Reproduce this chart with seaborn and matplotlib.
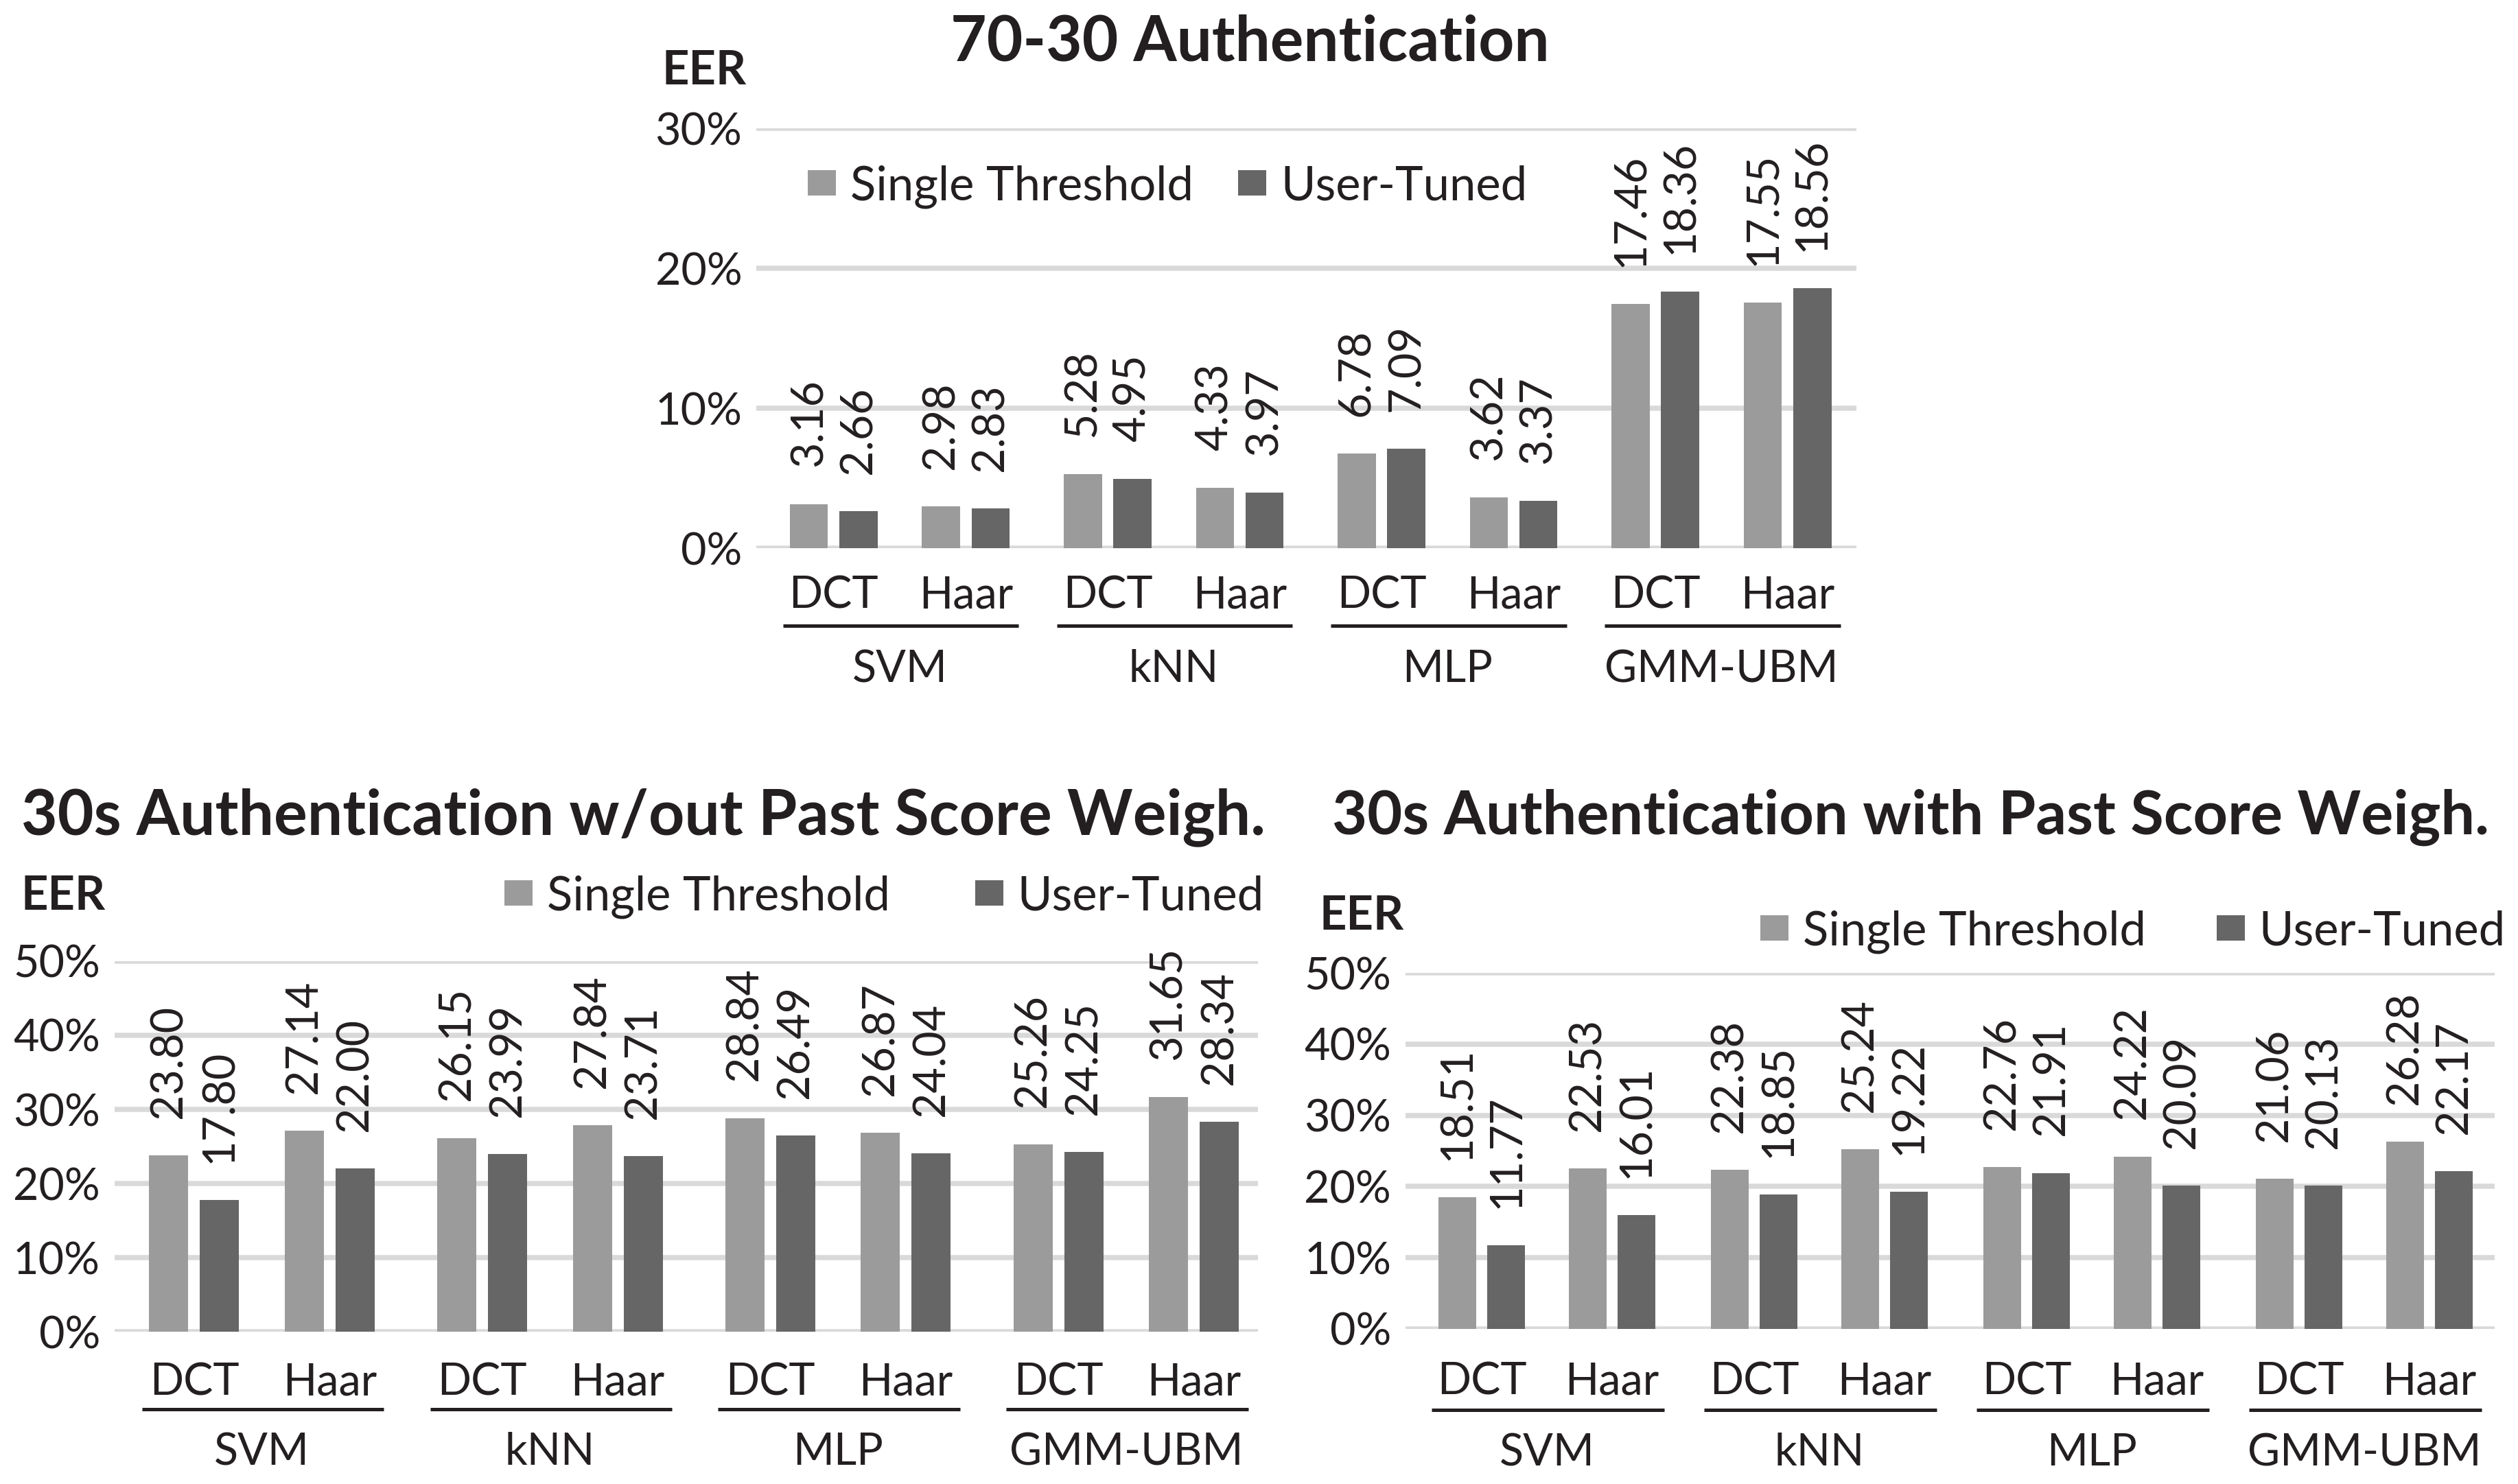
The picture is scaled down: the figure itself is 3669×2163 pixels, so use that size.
import pandas as pd
import matplotlib
matplotlib.use("Agg")
import matplotlib.pyplot as plt
import matplotlib.transforms as mtransforms
import seaborn as sns

# categories
groups = ["SVM", "kNN", "MLP", "GMM-UBM"]
features = ["DCT", "Haar"]
methods = ["Single Threshold", "User-Tuned"]

# EER values (%), order: SVM DCT, SVM Haar, kNN DCT, kNN Haar, MLP DCT, MLP Haar, GMM DCT, GMM Haar
eer_7030_single = [3.16, 2.98, 5.28, 4.33, 6.78, 3.62, 17.46, 17.55]
eer_7030_tuned = [2.66, 2.83, 4.95, 3.97, 7.09, 3.37, 18.36, 18.56]
eer_nopast_single = [23.80, 27.14, 26.15, 27.84, 28.84, 26.87, 25.26, 31.65]
eer_nopast_tuned = [17.80, 22.00, 23.99, 23.71, 26.49, 24.04, 24.25, 28.34]
eer_past_single = [18.51, 22.53, 22.38, 25.24, 22.76, 24.22, 21.06, 26.28]
eer_past_tuned = [11.77, 16.01, 18.85, 19.22, 21.91, 20.09, 20.13, 22.17]

INK = "#231f20"
LIGHT = "#9b9b9b"
DARK = "#666666"
GRID = "#d9d9d9"

sns.set_theme(style="white")
plt.rcParams["font.family"] = ["Lato", "DejaVu Sans"]
plt.rcParams["text.color"] = INK


def make_df(single, tuned, step):
    rows = []
    for i, (a, b) in enumerate(zip(single, tuned)):
        g, s = divmod(i, len(features))
        x = g * step + s
        rows.append({"pos": x, "method": methods[0], "eer": a})
        rows.append({"pos": x, "method": methods[1], "eer": b})
    return pd.DataFrame(rows)


def draw_panel(fig, rect, single, tuned, ymax, step, margins, offs,
               legend_anchor, legend_loc, colspace):
    ax = fig.add_axes(rect)
    df = make_df(single, tuned, step)
    sns.barplot(data=df, x="pos", y="eer", hue="method", hue_order=methods,
                palette=[LIGHT, DARK], native_scale=True, width=0.75, gap=0.23,
                saturation=1, errorbar=None, linewidth=0, ax=ax)

    positions = sorted(df["pos"].unique())
    ax.set_xlim(positions[0] - margins[0], positions[-1] + margins[1])
    ax.set_ylim(0, ymax)
    ticks = list(range(0, ymax + 1, 10))
    ax.set_yticks(ticks)
    ax.set_yticklabels([f"{t}%" for t in ticks])
    ax.tick_params(axis="y", length=0, pad=5, labelsize=15.5, labelcolor=INK)
    ax.set_xticks([])
    ax.set_xlabel("")
    ax.set_ylabel("")
    ax.yaxis.grid(True, color=GRID, linewidth=1.8)
    ax.set_axisbelow(True)
    sns.despine(ax=ax, left=True, bottom=True)

    for cont in ax.containers:
        ax.bar_label(cont, fmt="%.2f", rotation=90, padding=13, fontsize=15.5, color=INK)

    # two-level category axis: DCT / Haar, rule, classifier name
    cat_off, line_off, grp_off = offs
    xt = ax.get_xaxis_transform()
    for i, x in enumerate(positions):
        ax.annotate(features[i % len(features)], xy=(x, 0), xycoords=xt,
                    xytext=(0, -cat_off), textcoords="offset points",
                    ha="center", va="baseline", fontsize=15.5, color=INK,
                    annotation_clip=False)
    line_tr = xt + mtransforms.ScaledTranslation(0, -line_off / 72, fig.dpi_scale_trans)
    for g, name in enumerate(groups):
        x0 = positions[g * 2]
        x1 = positions[g * 2 + 1]
        ax.plot([x0 - 0.385, x1 + 0.40], [0, 0], color=INK, linewidth=1.2,
                transform=line_tr, clip_on=False, solid_capstyle="butt")
        ax.annotate(name, xy=((x0 + x1) / 2, 0), xycoords=xt,
                    xytext=(0, -grp_off), textcoords="offset points",
                    ha="center", va="baseline", fontsize=15.5, color=INK,
                    annotation_clip=False)

    handles, labels = ax.get_legend_handles_labels()
    ax.legend(handles, labels, loc=legend_loc, bbox_to_anchor=legend_anchor,
              bbox_transform=fig.transFigure, ncol=2, frameon=False,
              fontsize=16.5, handlelength=0.6, handleheight=0.45,
              handletextpad=0.3, columnspacing=colspace, borderpad=0,
              borderaxespad=0, labelcolor=INK)
    return ax


fig = plt.figure(figsize=(3669 / 300, 2163 / 300), dpi=300)

draw_panel(fig, [0.3004, 0.6306, 0.4369, 0.2829], eer_7030_single, eer_7030_tuned,
           30, 2.073, (0.585, 0.522), (21.0, 27.2, 46.8),
           (0.3208, 0.8743), "center left", 0.95)
draw_panel(fig, [0.0455, 0.1026, 0.4541, 0.2497], eer_nopast_single, eer_nopast_tuned,
           50, 2.125, (0.587, 0.473), (22.1, 27.1, 46.6),
           (0.5020, 0.3958), "center right", 1.8)
draw_panel(fig, [0.5582, 0.1045, 0.4325, 0.2399], eer_past_single, eer_past_tuned,
           50, 2.09, (0.584, 0.5), (23.0, 28.3, 47.8),
           (0.9951, 0.3722), "center right", 1.5)

fig.text(0.4965, 0.9593, "70-30 Authentication", ha="center", va="baseline",
         fontsize=21.8, fontweight="bold")
fig.text(0.2555, 0.4378, "30s Authentication w/out Past Score Weigh.", ha="center",
         va="baseline", fontsize=21.9, fontweight="bold")
fig.text(0.7588, 0.4378, "30s Authentication with Past Score Weigh.", ha="center",
         va="baseline", fontsize=21.2, fontweight="bold")

fig.text(0.263, 0.952, "EER", ha="left", va="center", fontsize=16.5, fontweight="bold")
fig.text(0.0082, 0.3958, "EER", ha="left", va="center", fontsize=16.5, fontweight="bold")
fig.text(0.524, 0.3828, "EER", ha="left", va="center", fontsize=16.5, fontweight="bold")

fig.savefig("out.png", dpi=300, facecolor="white")
